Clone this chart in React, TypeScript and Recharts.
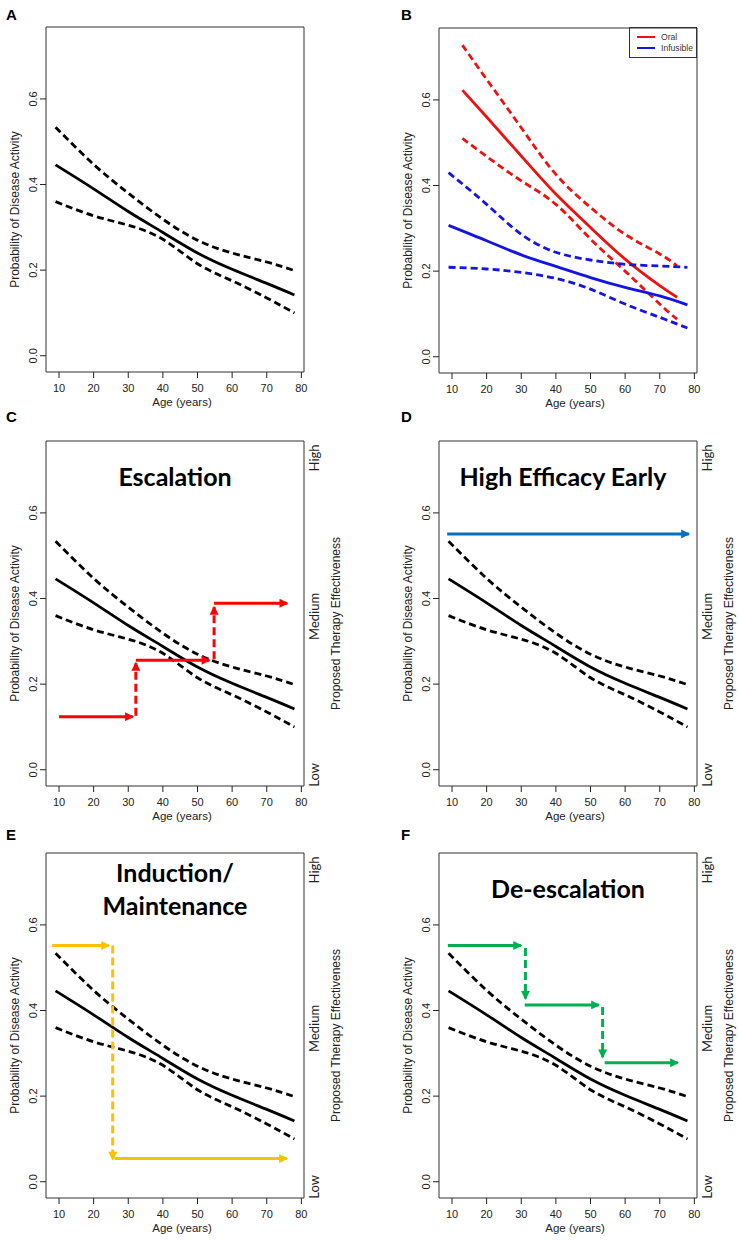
import React from 'react';
import { LineChart, Line, XAxis, YAxis, ReferenceArea, ReferenceLine } from 'recharts';

// axes
const ageTicks = [10, 20, 30, 40, 50, 60, 70, 80];
const probTicks = [0, 0.2, 0.4, 0.6];
const effectivenessTicks = [0, 1, 2];
const effectivenessLevels = ['Low', 'Medium', 'High'];

// overall model (panels A, C-F)
const ages = [9, 20, 30, 40, 50, 60, 70, 78];
const overallFit = [0.446, 0.39, 0.337, 0.288, 0.24, 0.202, 0.169, 0.142];
const overallUpper = [0.534, 0.447, 0.38, 0.319, 0.27, 0.24, 0.219, 0.199];
const overallLower = [0.36, 0.327, 0.305, 0.272, 0.215, 0.175, 0.135, 0.1];

// by route (panel B)
const oralAges = [13, 20, 30, 40, 50, 60, 70, 75];
const oralFit = [0.623, 0.56, 0.469, 0.38, 0.302, 0.228, 0.166, 0.139];
const oralUpper = [0.728, 0.648, 0.535, 0.426, 0.349, 0.286, 0.24, 0.212];
const oralLower = [0.51, 0.468, 0.411, 0.356, 0.275, 0.2, 0.123, 0.088];

const infusibleAges = [9, 20, 30, 40, 50, 60, 70, 78];
const infusibleFit = [0.307, 0.271, 0.238, 0.211, 0.185, 0.162, 0.142, 0.121];
const infusibleUpper = [0.43, 0.356, 0.286, 0.244, 0.226, 0.216, 0.212, 0.209];
const infusibleLower = [0.209, 0.205, 0.197, 0.183, 0.158, 0.123, 0.092, 0.067];

// treatment strategies: periods on a therapy (age range, level) and switches between them
const escalationPeriods = [
  { from: 10.0, to: 31.3, level: 0.124 },
  { from: 32.2, to: 53.4, level: 0.256 },
  { from: 54.8, to: 75.9, level: 0.389 },
];
const escalationSwitches = [
  { age: 32.2, from: 0.126, to: 0.249 },
  { age: 54.8, from: 0.258, to: 0.38 },
];

const highEfficacyPeriods = [{ from: 8.6, to: 78.4, level: 0.551 }];
const highEfficacySwitches: { age: number; from: number; to: number }[] = [];

const inductionPeriods = [
  { from: 8.0, to: 24.4, level: 0.552 },
  { from: 26.0, to: 75.8, level: 0.054 },
];
const inductionSwitches = [{ age: 25.5, from: 0.552, to: 0.052 }];

const deescalationPeriods = [
  { from: 8.8, to: 29.9, level: 0.552 },
  { from: 31.0, to: 52.4, level: 0.413 },
  { from: 54.1, to: 75.2, level: 0.278 },
];
const deescalationSwitches = [
  { age: 31.2, from: 0.546, to: 0.428 },
  { age: 53.5, from: 0.408, to: 0.291 },
];

const AGE_DOMAIN: [number, number] = [6.24, 80.76];
const PROB_DOMAIN: [number, number] = [-0.038, 0.768];
const EFFECT_DOMAIN: [number, number] = [-0.07, 2.107];

const FONT_R = '"Liberation Sans", Arial, sans-serif';
const FONT_PPT = 'Lato, "Open Sans", sans-serif';
const PLOT_H = 345;
const X_AXIS_H = 37;
const CHART_W = 369;

type Curve = { name: string; ages: number[]; values: number[]; color: string; dashed: boolean };
type Period = { from: number; to: number; level: number };
type Switch = { age: number; from: number; to: number };

const toPoints = (xs: number[], ys: number[]) => xs.map((age, i) => ({ age, p: ys[i] }));

const overallCurves: Curve[] = [
  { name: 'fit', ages, values: overallFit, color: '#000', dashed: false },
  { name: 'upper', ages, values: overallUpper, color: '#000', dashed: true },
  { name: 'lower', ages, values: overallLower, color: '#000', dashed: true },
];

const routeCurves: Curve[] = [
  { name: 'Oral', ages: oralAges, values: oralFit, color: '#ee1111', dashed: false },
  { name: 'oralUpper', ages: oralAges, values: oralUpper, color: '#ee1111', dashed: true },
  { name: 'oralLower', ages: oralAges, values: oralLower, color: '#ee1111', dashed: true },
  { name: 'Infusible', ages: infusibleAges, values: infusibleFit, color: '#1515dd', dashed: false },
  { name: 'infUpper', ages: infusibleAges, values: infusibleUpper, color: '#1515dd', dashed: true },
  { name: 'infLower', ages: infusibleAges, values: infusibleLower, color: '#1515dd', dashed: true },
];

const ProbTick = (p: any) => {
  const { x, y, payload } = p;
  return (
    <text x={x} y={y} transform={`rotate(-90 ${x} ${y})`} textAnchor="middle" fontSize={11} fontFamily={FONT_R} fill="#222">
      {Number(payload.value).toFixed(1)}
    </text>
  );
};

const EffectTick = (p: any) => {
  const { x, y, payload } = p;
  return (
    <text x={x} y={y} transform={`rotate(-90 ${x} ${y})`} textAnchor="middle" fontSize={13} fontFamily={FONT_PPT} fill="#222">
      {effectivenessLevels[payload.value]}
    </text>
  );
};

const rotatedTitle = (cx: number, text: string, size: number) => (lp: any) => {
  const vb = lp.viewBox;
  const cy = vb.y + vb.height / 2 + 10;
  return (
    <text x={cx} y={cy} transform={`rotate(-90 ${cx} ${cy})`} textAnchor="middle" dominantBaseline="central"
      fontSize={size} fontFamily={FONT_R} fill="#222">
      {text}
    </text>
  );
};

const ageTitle = (lp: any) => {
  const vb = lp.viewBox;
  return (
    <text x={vb.x + vb.width / 2 + 7} y={vb.y + 34} textAnchor="middle" fontSize={11.5} fontFamily={FONT_R} fill="#222">
      Age (years)
    </text>
  );
};

const strategyTitle = (lines: string[], baselines: number[], dx: number) => (lp: any) => {
  const vb = lp.viewBox;
  return (
    <g>
      {lines.map((line, i) => (
        <text key={line} x={vb.x + vb.width / 2 + dx} y={vb.y + baselines[i]} textAnchor="middle" fontSize={25}
          fontWeight={700} fontFamily={FONT_PPT} fill="#000">
          {line}
        </text>
      ))}
    </g>
  );
};

const arrowShape = (color: string, dashed: boolean) => (sp: any) => (
  <line x1={sp.x1} y1={sp.y1} x2={sp.x2} y2={sp.y2} stroke={color} strokeWidth={3}
    strokeDasharray={dashed ? '8 4' : undefined} markerEnd={`url(#head-${color.slice(1)})`} />
);

type PanelProps = {
  letter: string;
  x: number;
  y: number;
  marginTop: number;
  letterY: number;
  rightCol: boolean;
  curves: Curve[];
  title?: string[];
  titleBaselines?: number[];
  titleDx?: number;
  periods?: Period[];
  switches?: Switch[];
  arrowColor?: string;
  effect?: boolean;
  legend?: boolean;
};

function Panel(props: PanelProps) {
  const { letter, x, y, marginTop, letterY, rightCol, curves, title, titleBaselines, titleDx, periods, switches, arrowColor, effect, legend } = props;
  const height = marginTop + PLOT_H + X_AXIS_H;
  const leftW = rightCol ? 69 : 46;
  const rightSpace = rightCol ? 42 : 65;
  const effectW = rightCol ? 40 : 60;
  const boxRight = CHART_W - rightSpace;
  return (
    <div style={{ position: 'absolute', left: x, top: y, width: CHART_W, height }}>
      <div style={{ position: 'absolute', left: rightCol ? 31 : 6, top: letterY - 15, fontFamily: FONT_R, fontWeight: 700, fontSize: 15, lineHeight: '18px' }}>
        {letter}
      </div>
      <LineChart width={CHART_W} height={height}
        margin={{ top: marginTop, right: effect ? rightSpace - effectW : rightSpace, bottom: 0, left: 0 }}>
        <XAxis dataKey="age" type="number" domain={AGE_DOMAIN} ticks={ageTicks} interval={0} allowDataOverflow
          axisLine={false} tickSize={6} tickMargin={6} height={X_AXIS_H} stroke="#222"
          tick={{ fontSize: 11, fontFamily: FONT_R, fill: '#222' }} label={ageTitle} />
        <YAxis yAxisId="prob" type="number" domain={PROB_DOMAIN} ticks={probTicks} interval={0} allowDataOverflow
          axisLine={false} tickSize={6} tickMargin={3} width={leftW} stroke="#222" tick={ProbTick}
          label={rotatedTitle(leftW - 31, 'Probability of Disease Activity', 12)} />
        {effect && (
          <YAxis yAxisId="eff" orientation="right" type="number" domain={EFFECT_DOMAIN} ticks={effectivenessTicks}
            interval={0} allowDataOverflow axisLine={false} tickLine={false} tickSize={0} tickMargin={15} width={effectW}
            tick={EffectTick} label={rotatedTitle(boxRight + 32, 'Proposed Therapy Effectiveness', 12)} />
        )}
        <ReferenceArea yAxisId="prob" x1={AGE_DOMAIN[0]} x2={AGE_DOMAIN[1]} y1={PROB_DOMAIN[0]} y2={PROB_DOMAIN[1]}
          fill="none" fillOpacity={0} stroke="#333" strokeWidth={1} strokeOpacity={1}
          label={title ? strategyTitle(title, titleBaselines || [], titleDx || 0) : undefined} />
        {curves.map((c) => (
          <Line key={c.name} yAxisId="prob" data={toPoints(c.ages, c.values)} dataKey="p" type="natural"
            stroke={c.color} strokeWidth={2.8} strokeDasharray={c.dashed ? '7 4' : undefined}
            dot={false} activeDot={false} isAnimationActive={false} />
        ))}
        {(periods || []).map((s, i) => (
          <ReferenceLine key={`p${i}`} yAxisId="prob" segment={[{ x: s.from, y: s.level }, { x: s.to, y: s.level }]}
            shape={arrowShape(arrowColor || '#000', false)} />
        ))}
        {(switches || []).map((s, i) => (
          <ReferenceLine key={`s${i}`} yAxisId="prob" segment={[{ x: s.age, y: s.from }, { x: s.age, y: s.to }]}
            shape={arrowShape(arrowColor || '#000', true)} />
        ))}
      </LineChart>
      {legend && (
        <div style={{ position: 'absolute', left: 259, top: 27, width: 66, height: 29, border: '1px solid #333',
          fontFamily: FONT_R, fontSize: 8.6, color: '#333' }}>
          {curves.filter((c) => !c.dashed).map((c, i) => (
            <div key={c.name} style={{ position: 'absolute', left: 7, top: 3 + i * 11, height: 11, display: 'flex', alignItems: 'center' }}>
              <span style={{ display: 'inline-block', width: 18, height: 2, background: c.color, marginRight: 6 }} />
              {c.name}
            </div>
          ))}
        </div>
      )}
    </div>
  );
}

const arrowColors = ['#ff0000', '#0070c0', '#ffc000', '#00b050'];

export default function App() {
  return (
    <div style={{ position: 'absolute', left: 0, top: 0, width: 739, height: 1240, background: '#fff' }}>
      <svg width={0} height={0} style={{ position: 'absolute' }}>
        <defs>
          {arrowColors.map((c) => (
            <marker key={c} id={`head-${c.slice(1)}`} viewBox="0 0 10 10" refX={8.5} refY={5} markerWidth={10}
              markerHeight={9} markerUnits="userSpaceOnUse" orient="auto">
              <path d="M0,0 L10,5 L0,10 z" fill={c} />
            </marker>
          ))}
        </defs>
      </svg>
      <Panel letter="A" x={0} y={0} marginTop={27} letterY={21} rightCol={false} curves={overallCurves} />
      <Panel letter="B" x={370} y={0} marginTop={28} letterY={21} rightCol curves={routeCurves} legend />
      <Panel letter="C" x={0} y={410} marginTop={31} letterY={13} rightCol={false} curves={overallCurves}
        title={['Escalation']} titleBaselines={[45]} periods={escalationPeriods} switches={escalationSwitches}
        arrowColor="#ff0000" effect />
      <Panel letter="D" x={370} y={410} marginTop={31} letterY={13} rightCol curves={overallCurves}
        title={['High Efficacy Early']} titleBaselines={[45]} titleDx={-5} periods={highEfficacyPeriods}
        switches={highEfficacySwitches} arrowColor="#0070c0" effect />
      <Panel letter="E" x={0} y={820} marginTop={33} letterY={21} rightCol={false} curves={overallCurves}
        title={['Induction/', 'Maintenance']} titleBaselines={[29, 62]} periods={inductionPeriods} switches={inductionSwitches}
        arrowColor="#ffc000" effect />
      <Panel letter="F" x={370} y={820} marginTop={33} letterY={21} rightCol curves={overallCurves}
        title={['De-escalation']} titleBaselines={[45]} periods={deescalationPeriods} switches={deescalationSwitches}
        arrowColor="#00b050" effect />
    </div>
  );
}
